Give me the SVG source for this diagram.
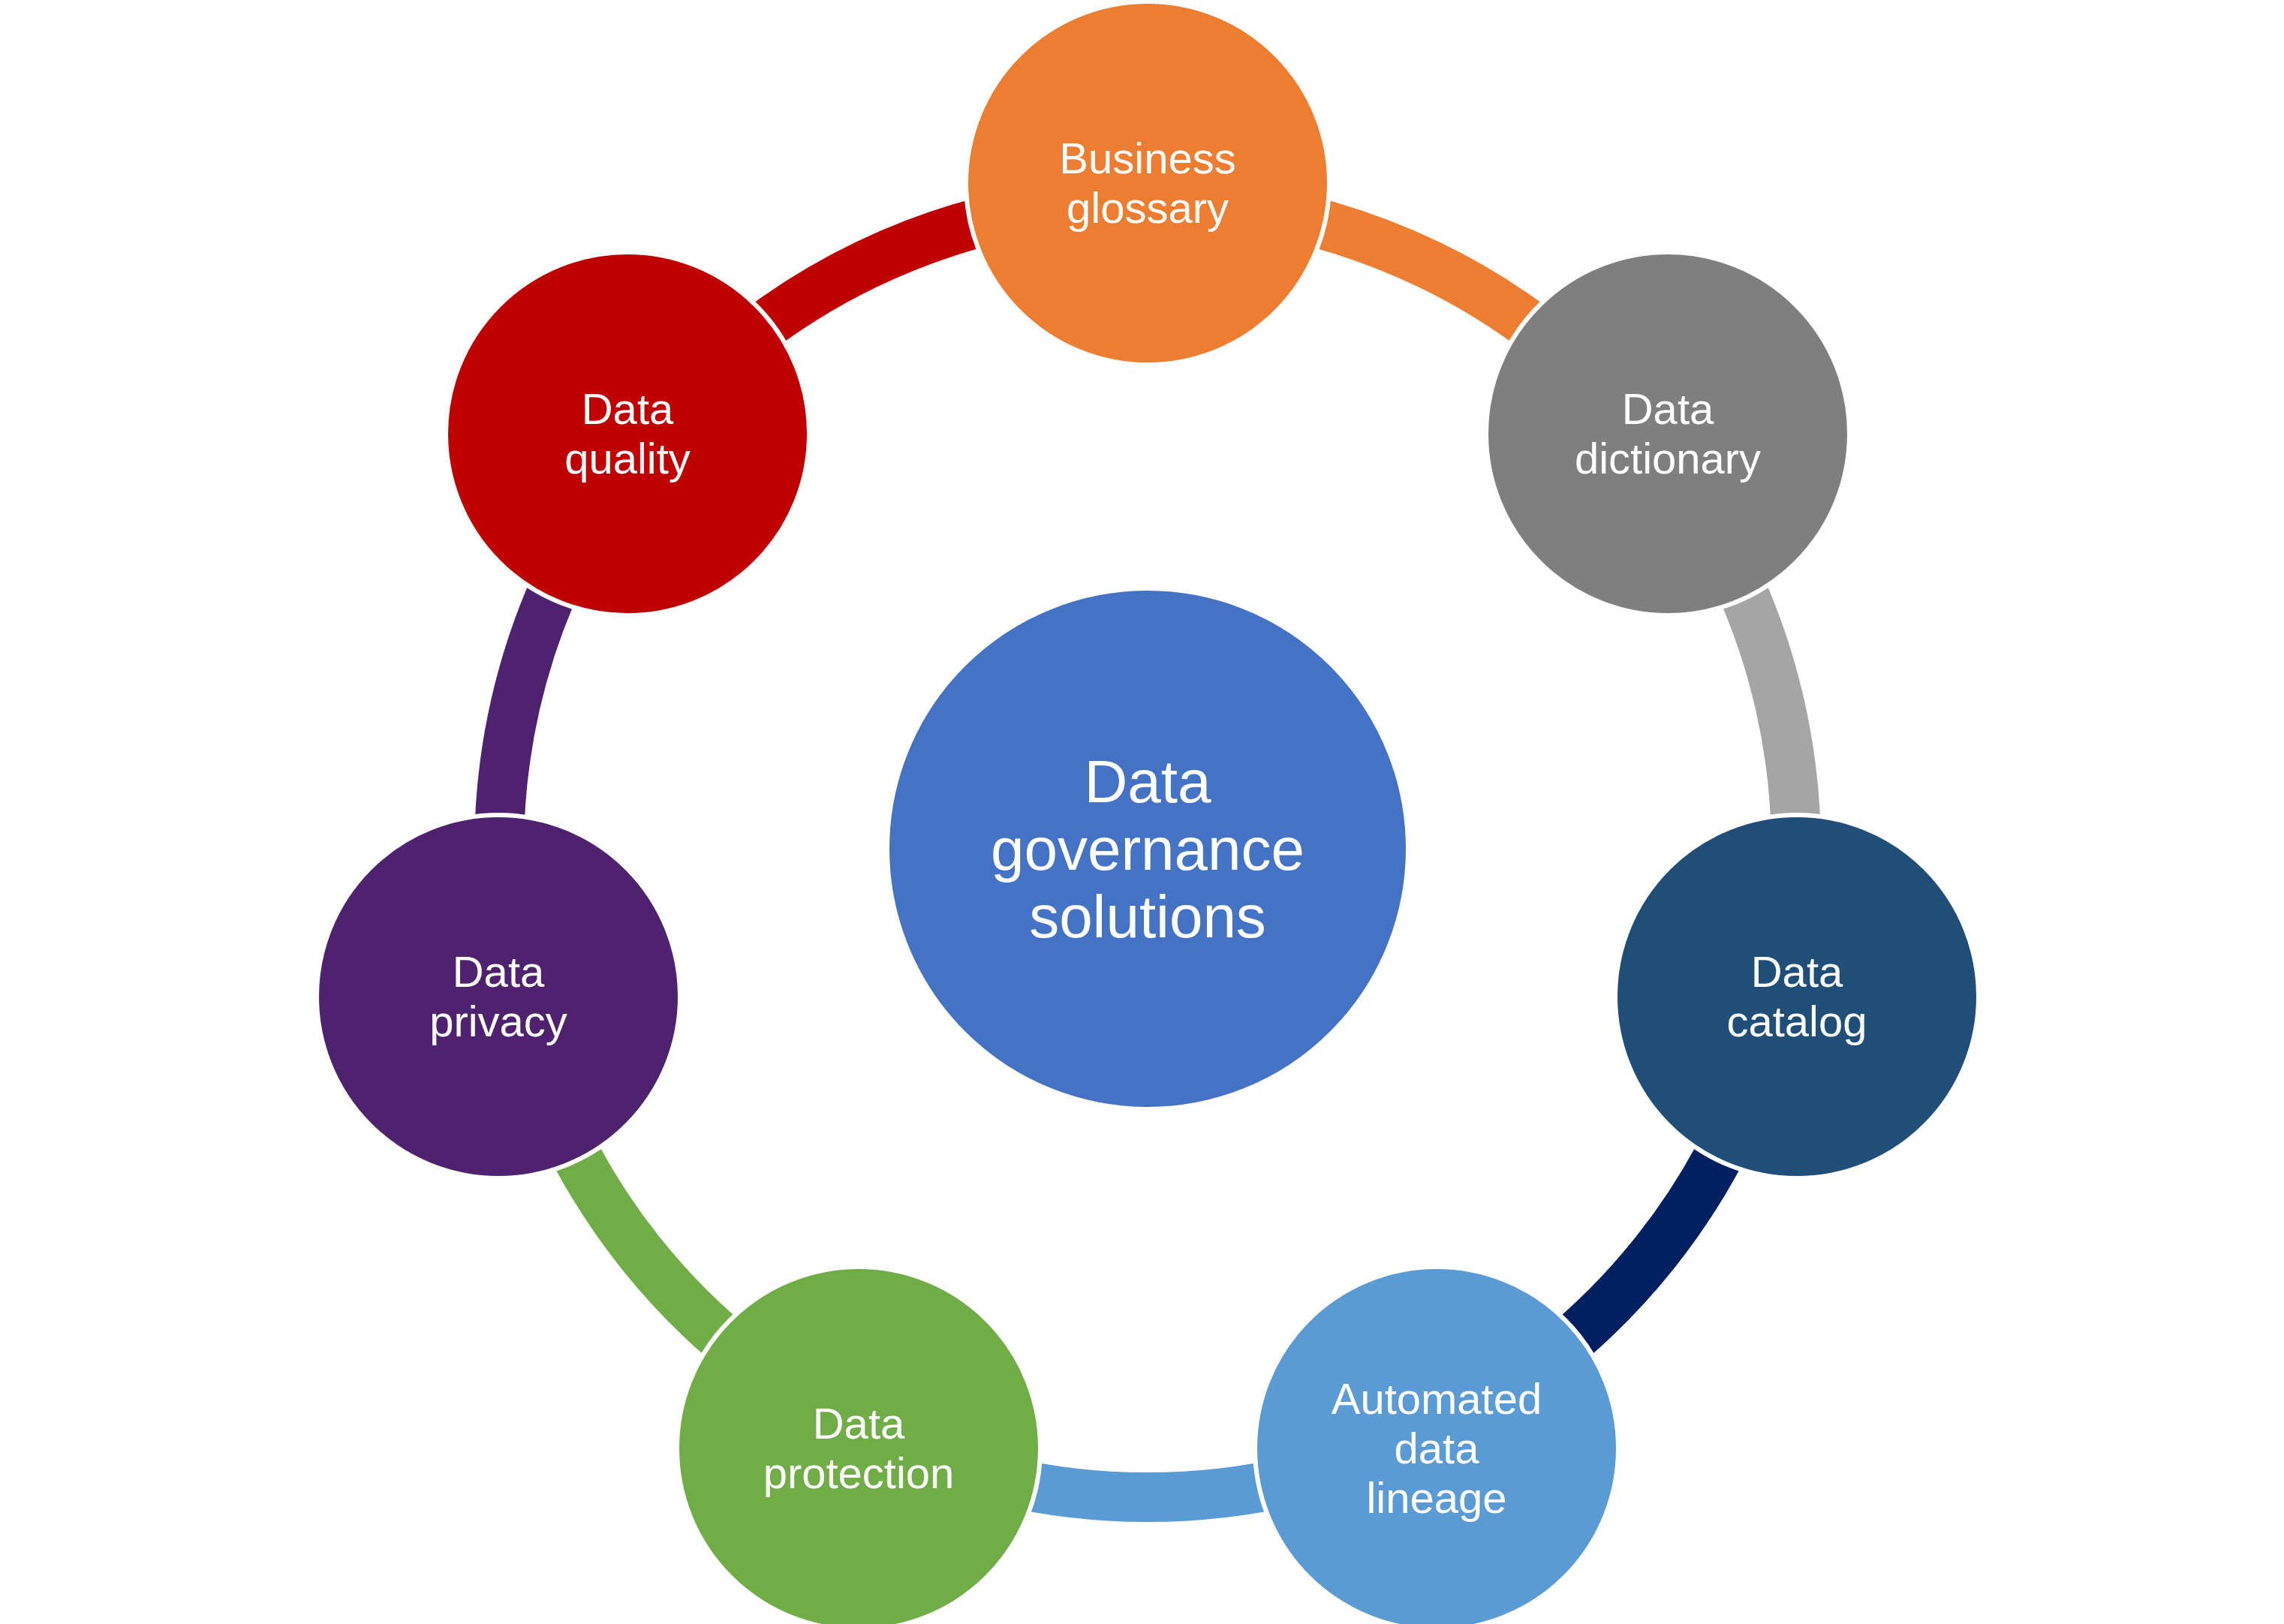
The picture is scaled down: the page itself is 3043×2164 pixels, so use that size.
<svg xmlns="http://www.w3.org/2000/svg" width="3043" height="2164" viewBox="0 0 3043 2164">
<style>
.arc{fill:none;stroke-width:66}
.n{stroke:#fff;stroke-width:6}
text{font-family:"Liberation Sans",Arial,sans-serif;fill:#fff;text-anchor:middle;font-size:58px}
.c{font-size:80px}
</style>
<rect width="3043" height="2164" fill="#fff"/>
<g id="connectors">
<path class="arc" stroke="#ED7D31" d="M1529 267 A864 864 0 0 1 2204.5 592.3"/>
<path class="arc" stroke="#A5A5A5" d="M2204.5 592.3 A864 864 0 0 1 2371.3 1323.2"/>
<path class="arc" stroke="#002060" d="M2371.3 1323.2 A864 864 0 0 1 1903.9 1909.5"/>
<path class="arc" stroke="#5B9BD5" d="M1903.9 1909.5 A864 864 0 0 1 1154.1 1909.5"/>
<path class="arc" stroke="#70AD47" d="M1154.1 1909.5 A864 864 0 0 1 686.7 1323.2"/>
<path class="arc" stroke="#4F2270" d="M686.7 1323.2 A864 864 0 0 1 853.5 592.3"/>
<path class="arc" stroke="#C00000" d="M853.5 592.3 A864 864 0 0 1 1529 267"/>
</g>
<g id="center"><circle cx="1529" cy="1131" r="347" fill="#4472C4" class="n"/>
<text class="c" x="1529" y="1069">Data</text><text class="c" x="1529" y="1159">governance</text><text class="c" x="1529" y="1249">solutions</text></g>
<g id="glossary"><circle cx="1529" cy="244" r="242" fill="#ED7D31" class="n"/>
<text x="1529" y="231">Business</text><text x="1529" y="297">glossary</text></g>
<g id="dictionary"><circle cx="2222" cy="578" r="242" fill="#7F7F7F" class="n"/>
<text x="2222" y="565">Data</text><text x="2222" y="631">dictionary</text></g>
<g id="catalog"><circle cx="2394" cy="1328" r="242" fill="#1F4E79" class="n"/>
<text x="2394" y="1315">Data</text><text x="2394" y="1381">catalog</text></g>
<g id="lineage"><circle cx="1914" cy="1930" r="242" fill="#5B9BD5" class="n"/>
<text x="1914" y="1884">Automated</text><text x="1914" y="1950">data</text><text x="1914" y="2016">lineage</text></g>
<g id="protection"><circle cx="1144" cy="1930" r="242" fill="#70AD47" class="n"/>
<text x="1144" y="1917">Data</text><text x="1144" y="1983">protection</text></g>
<g id="privacy"><circle cx="664" cy="1328" r="242" fill="#4F2270" class="n"/>
<text x="664" y="1315">Data</text><text x="664" y="1381">privacy</text></g>
<g id="quality"><circle cx="836" cy="578" r="242" fill="#C00000" class="n"/>
<text x="836" y="565">Data</text><text x="836" y="631">quality</text></g>
</svg>
